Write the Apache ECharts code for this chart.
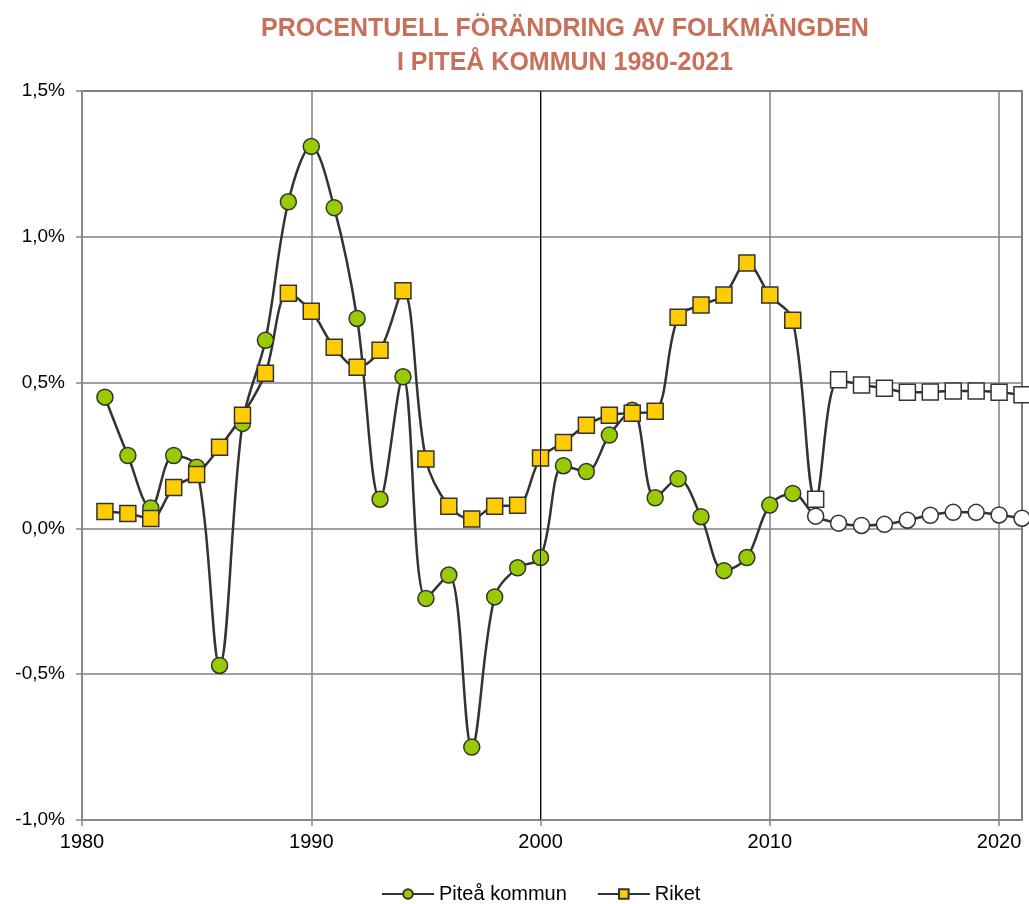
<!DOCTYPE html>
<html>
<head>
<meta charset="utf-8">
<script src="https://cdn.jsdelivr.net/npm/echarts@6/dist/echarts.min.js"></script>
<style>
  html, body { margin: 0; padding: 0; background: #fff; }
  #chart { width: 1029px; height: 904px; }
</style>
</head>
<body>
<div id="chart"></div>
<script>
// data, procent per år
const years = [1981, 1982, 1983, 1984, 1985, 1986, 1987, 1988, 1989, 1990,
  1991, 1992, 1993, 1994, 1995, 1996, 1997, 1998, 1999, 2000,
  2001, 2002, 2003, 2004, 2005, 2006, 2007, 2008, 2009, 2010,
  2011, 2012, 2013, 2014, 2015, 2016, 2017, 2018, 2019, 2020, 2021];
const pitea = [0.45, 0.25, 0.07, 0.25, 0.21, -0.47, 0.36, 0.645, 1.12, 1.31,
  1.10, 0.72, 0.10, 0.52, -0.24, -0.16, -0.75, -0.235, -0.135, -0.10,
  0.215, 0.195, 0.32, 0.405, 0.105, 0.17, 0.04, -0.145, -0.10, 0.08,
  0.12, 0.042, 0.018, 0.01, 0.014, 0.028, 0.045, 0.055, 0.055, 0.046, 0.035];
const riket = [0.058, 0.051, 0.034, 0.14, 0.185, 0.278, 0.388, 0.532, 0.806, 0.745,
  0.621, 0.553, 0.611, 0.815, 0.238, 0.076, 0.032, 0.076, 0.079, 0.241,
  0.295, 0.354, 0.388, 0.395, 0.402, 0.724, 0.766, 0.800, 0.910, 0.800,
  0.714, 0.100, 0.510, 0.492, 0.481, 0.467, 0.468, 0.471, 0.471, 0.467, 0.458];
const prognosFrom = 2012;
const markYear = 2000;

const toPoints = (vals) => vals.map((v, i) => {
  const p = { value: [years[i], v] };
  if (years[i] >= prognosFrom) p.itemStyle = { color: '#ffffff' };
  return p;
});

let myChart = echarts.init(document.getElementById('chart'));
const option = {
  animation: false,
  title: {
    text: 'PROCENTUELL FÖRÄNDRING AV FOLKMÄNGDEN\nI PITEÅ KOMMUN 1980-2021',
    left: 560,
    top: 7,
    textAlign: 'center',
    textStyle: {
      color: '#C8705A',
      fontFamily: 'Liberation Sans',
      fontWeight: 'bold',
      fontSize: 25,
      lineHeight: 34
    }
  },
  legend: {
    top: 879,
    left: 376,
    itemWidth: 52,
    itemHeight: 12,
    itemGap: 30,
    textStyle: { fontFamily: 'Liberation Sans', fontSize: 20, color: '#000' },
    data: ['Piteå kommun', 'Riket']
  },
  grid: {
    left: 82,
    right: 7,
    top: 91,
    bottom: 84,
    show: true,
    borderColor: '#555',
    borderWidth: 1.5
  },
  xAxis: {
    type: 'value',
    min: 1980,
    max: 2021,
    interval: 10,
    axisLine: { onZero: false, lineStyle: { color: '#888', width: 2 } },
    axisTick: { show: true, length: 6, lineStyle: { color: '#888', width: 1.5 } },
    axisLabel: {
      showMaxLabel: false,
      color: '#000',
      fontFamily: 'Liberation Sans',
      fontSize: 20,
      margin: 12,
      formatter: (v) => String(v)
    },
    splitLine: { show: true, lineStyle: { color: '#808080', width: 1.5 } }
  },
  yAxis: {
    type: 'value',
    min: -1,
    max: 1.5,
    interval: 0.5,
    axisLine: { show: true, lineStyle: { color: '#888', width: 2 } },
    axisTick: { show: true, length: 6, lineStyle: { color: '#888', width: 1.5 } },
    axisLabel: {
      color: '#000',
      fontFamily: 'Liberation Sans',
      fontSize: 19,
      margin: 17,
      formatter: (v) => v.toFixed(1).replace('.', ',') + '%'
    },
    splitLine: { show: true, lineStyle: { color: '#808080', width: 1.5 } }
  },
  series: [
    {
      // svart linje vid 2000
      type: 'line',
      data: [],
      z: 1,
      silent: true,
      markLine: {
        silent: true,
        symbol: 'none',
        label: { show: false },
        lineStyle: { color: '#000', width: 1, type: 'solid' },
        data: [{ xAxis: markYear }]
      }
    },
    {
      name: 'Piteå kommun',
      type: 'line',
      smooth: 0.35,
      symbol: 'circle',
      symbolSize: 16,
      lineStyle: { color: '#333', width: 2.5 },
      itemStyle: { color: '#99CC00', borderColor: '#333', borderWidth: 1.5 },
      data: toPoints(pitea)
    },
    {
      name: 'Riket',
      type: 'line',
      smooth: 0.35,
      symbol: 'rect',
      symbolSize: 16,
      lineStyle: { color: '#333', width: 2.5 },
      itemStyle: { color: '#FFCC00', borderColor: '#333', borderWidth: 1.5 },
      data: toPoints(riket)
    }
  ]
};
myChart.setOption(option);
</script>
</body>
</html>
